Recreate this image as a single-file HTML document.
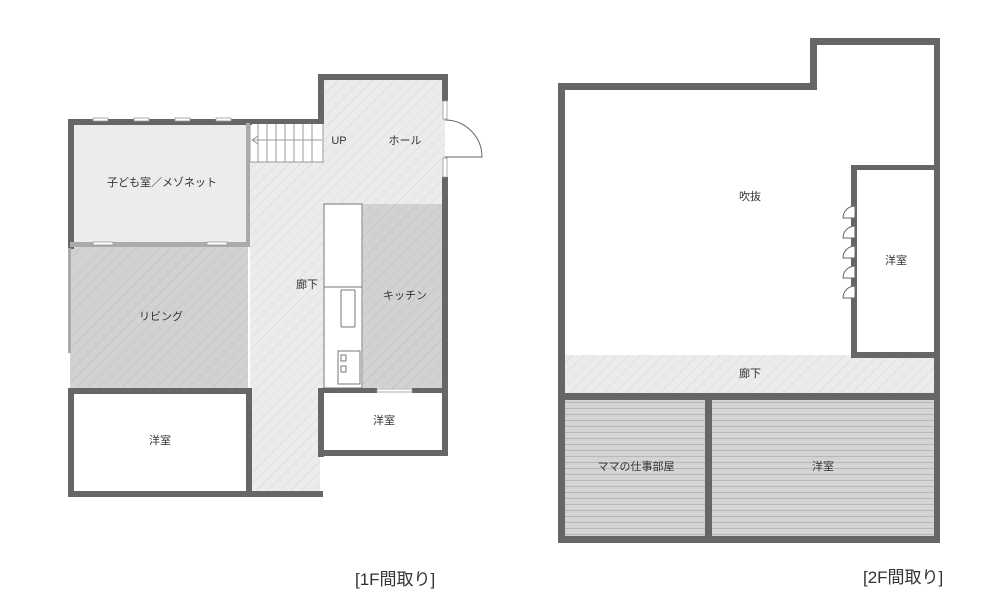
<!DOCTYPE html>
<html><head><meta charset="utf-8"><style>
html,body{margin:0;padding:0;background:#fff;}
svg{display:block;}
text{font-family:"Liberation Sans","Noto Sans CJK JP",sans-serif;fill:#333;}
</style></head><body>
<svg width="1000" height="598" viewBox="0 0 1000 598" xmlns="http://www.w3.org/2000/svg">
<defs>
<pattern id="h1" width="8" height="8" patternUnits="userSpaceOnUse" patternTransform="rotate(45)">
<rect width="8" height="8" fill="#ececec"/><line x1="0" y1="0" x2="0" y2="8" stroke="#d6d6d6" stroke-width="1"/></pattern>
<pattern id="h2" width="8" height="8" patternUnits="userSpaceOnUse" patternTransform="rotate(45)">
<rect width="8" height="8" fill="#d2d2d2"/><line x1="0" y1="0" x2="0" y2="8" stroke="#bdbdbd" stroke-width="1"/></pattern>
<pattern id="st" width="6" height="6" patternUnits="userSpaceOnUse">
<rect width="6" height="6" fill="#d4d4d4"/><line x1="0" y1="0.5" x2="6" y2="0.5" stroke="#b8b8b8" stroke-width="1"/></pattern>
</defs>

<!-- 1F fills -->
<polygon points="320,78 445,78 445,390 320,390 320,493 250,493 250,122 320,122" fill="url(#h1)"/>
<rect x="70" y="122" width="178" height="124" fill="#ececec"/>
<rect x="70" y="247" width="178" height="141" fill="url(#h2)"/>
<rect x="363" y="204" width="80" height="184" fill="url(#h2)"/>
<rect x="70" y="391" width="178" height="102" fill="#fff"/>
<rect x="320" y="391" width="125" height="62" fill="#fff"/>
<!-- stair -->
<g stroke="#999" stroke-width="1" fill="#fff">
<rect x="250" y="123" width="73" height="39"/>
<line x1="258" y1="123" x2="258" y2="162"/><line x1="267" y1="123" x2="267" y2="162"/><line x1="276" y1="123" x2="276" y2="162"/><line x1="285" y1="123" x2="285" y2="162"/><line x1="294" y1="123" x2="294" y2="162"/><line x1="303" y1="123" x2="303" y2="162"/><line x1="312" y1="123" x2="312" y2="162"/>
<line x1="252" y1="140" x2="322" y2="140"/>
<polyline points="258,136 252,140 258,144" fill="none"/>
</g>
<!-- counter -->
<g stroke="#777" stroke-width="1" fill="#fff">
<rect x="324" y="204" width="38" height="184"/>
<line x1="324" y1="287" x2="362" y2="287"/>
<rect x="341" y="290" width="14" height="37" rx="1"/>
<rect x="338" y="351" width="22" height="33"/>
<rect x="341" y="355" width="5" height="6"/><rect x="341" y="366" width="5" height="6"/>
</g>
<!-- 1F walls -->
<g fill="#666">
<rect x="68" y="119" width="184" height="6"/>
<rect x="68" y="119" width="6" height="130"/>
<rect x="318" y="74" width="130" height="6"/>
<rect x="318" y="74" width="6" height="50"/>
<rect x="250" y="119" width="74" height="5"/>
<rect x="442" y="74" width="6" height="27"/>
<rect x="442" y="177" width="6" height="279"/>
<rect x="68" y="388" width="184" height="6"/>
<rect x="68" y="388" width="6" height="109"/>
<rect x="246" y="388" width="6" height="109"/>
<rect x="68" y="491" width="184" height="6"/>
<rect x="250" y="491" width="73" height="6"/>
<rect x="318" y="388" width="6" height="69"/>
<rect x="318" y="388" width="59" height="5"/>
<rect x="412" y="388" width="36" height="5"/>
<rect x="318" y="450" width="130" height="6"/>
</g>
<g fill="#aaa">
<rect x="246" y="123" width="4" height="123"/>
<rect x="70" y="242" width="180" height="5"/>
<rect x="68" y="248" width="3" height="105"/>
</g>
<g fill="#fff" stroke="#999" stroke-width="0.8">
<rect x="93" y="118" width="15" height="3"/><rect x="134" y="118" width="15" height="3"/><rect x="175" y="118" width="15" height="3"/><rect x="216" y="118" width="15" height="3"/>
<rect x="93" y="242" width="20" height="3"/><rect x="207" y="242" width="20" height="3"/>
<rect x="377" y="389" width="35" height="3"/>
<rect x="443" y="101" width="4" height="18"/><rect x="443" y="158" width="4" height="19"/>
</g>
<path d="M445 120 A37 37 0 0 1 482 157 L445 157" fill="none" stroke="#666" stroke-width="1"/>

<g font-size="11" text-anchor="middle">
<text x="339" y="144">UP</text>
<text x="405" y="144">ホール</text>
<text x="162" y="186">子ども室／メゾネット</text>
<text x="307" y="288">廊下</text>
<text x="405" y="299">キッチン</text>
<text x="161" y="320">リビング</text>
<text x="160" y="444">洋室</text>
<text x="384" y="424">洋室</text>
</g>

<!-- 2F -->
<rect x="562" y="355" width="374" height="39" fill="url(#h1)"/>
<rect x="562" y="398" width="374" height="140" fill="url(#st)"/>
<g fill="#666">
<rect x="558" y="83" width="259" height="7"/>
<rect x="810" y="38" width="7" height="52"/>
<rect x="810" y="38" width="130" height="7"/>
<rect x="934" y="38" width="6" height="505"/>
<rect x="558" y="83" width="7" height="460"/>
<rect x="558" y="536" width="382" height="7"/>
<rect x="558" y="393" width="382" height="7"/>
<rect x="705" y="393" width="7" height="148"/>
<rect x="851" y="165" width="6" height="193"/>
<rect x="851" y="165" width="88" height="5"/>
<rect x="851" y="352" width="88" height="6"/>
</g>
<g fill="#fff" stroke="#666" stroke-width="1">
<path d="M855 206 A12 12 0 0 0 843 218 L855 218 Z"/>
<path d="M855 226 A12 12 0 0 0 843 238 L855 238 Z"/>
<path d="M855 246 A12 12 0 0 0 843 258 L855 258 Z"/>
<path d="M855 266 A12 12 0 0 0 843 278 L855 278 Z"/>
<path d="M855 286 A12 12 0 0 0 843 298 L855 298 Z"/>
</g>
<g font-size="11" text-anchor="middle">
<text x="750" y="200">吹抜</text>
<text x="896" y="264">洋室</text>
<text x="750" y="377">廊下</text>
<text x="636" y="470">ママの仕事部屋</text>
<text x="823" y="470">洋室</text>
</g>

<g font-size="17">
<text x="355" y="585">[1F間取り]</text>
<text x="863" y="583">[2F間取り]</text>
</g>
</svg>
</body></html>
